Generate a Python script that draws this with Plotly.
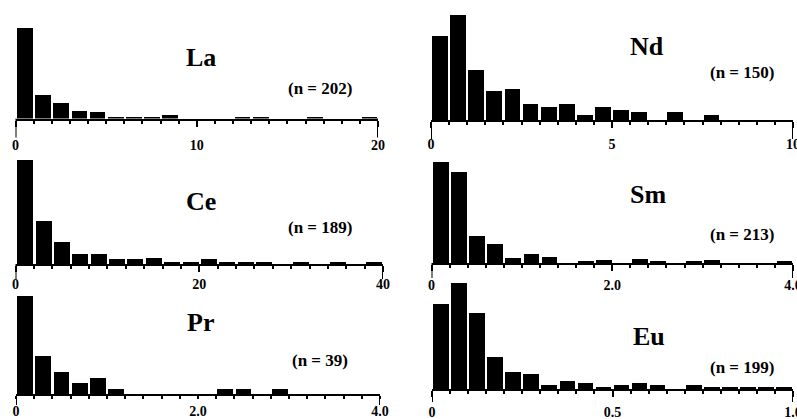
import numpy as np
import plotly.graph_objects as go

W, H = 797, 419

# ---------------- data ----------------
elements = ["La", "Nd", "Ce", "Sm", "Pr", "Eu"]
n_labels = ["(n = 202)", "(n = 150)", "(n = 189)", "(n = 213)", "(n = 39)", "(n = 199)"]

la_counts = [119, 31, 21, 10, 8, 2, 1, 2, 4, 0, 0, 0, 1, 1, 0, 0, 1, 0, 0, 1]
nd_counts = [32, 40, 19, 11, 12, 6, 5, 6, 2, 5, 4, 3, 0, 3, 0, 2, 0, 0, 0, 0]
ce_counts = [87, 36, 18, 8, 8, 4, 4, 5, 2, 2, 4, 2, 2, 2, 0, 1, 0, 2, 0, 2]
sm_counts = [79, 71, 21, 15, 4, 7, 5, 0, 1, 2, 0, 3, 1, 0, 1, 2, 0, 0, 0, 1]
pr_counts = [18, 7, 4, 2, 3, 1, 0, 0, 0, 0, 0, 1, 1, 0, 1, 0, 0, 0, 0, 0]
eu_counts = [45, 56, 40, 17, 9, 8, 2, 4, 3, 1, 2, 3, 2, 0, 2, 1, 1, 1, 1, 1]

x_max = [20, 10, 40, 4.0, 4.0, 1.0]
tick_vals = [[0, 10, 20], [0, 5, 10], [0, 20, 40], [0, 2.0, 4.0], [0, 2.0, 4.0], [0, 0.5, 1.0]]
tick_text = [["0", "10", "20"], ["0", "5", "10"], ["0", "20", "40"],
             ["0", "2.0", "4.0"], ["0", "2.0", "4.0"], ["0", "0.5", "1.0"]]
counts = [la_counts, nd_counts, ce_counts, sm_counts, pr_counts, eu_counts]

# ---------------- layout (pixel geometry) ----------------
# left px, right px, baseline px, top-of-tallest-bar px, end tick length
geom = [
    (15.5, 378, 118.5, 28, 19),
    (431, 793, 120, 15, 19),
    (15.5, 383, 264, 160, 15),
    (431.5, 793, 263, 162, 15),
    (16, 380, 394, 296, 11),
    (432, 793, 389, 283, 13),
]
standoff = [7, 4, 0, 2, 0, 3]
mid_ticklen = [6, 6, 6, 6, 3, 6]
elem_pos = [(201, 58), (647, 46), (201, 201), (648, 194), (201, 322), (649, 336)]
n_pos = [(320, 88), (742, 73), (320, 227), (742, 234), (320, 360), (742, 367)]

SERIF = "Liberation Serif"

def fx(x):
    return x / W

def fy(y):
    return 1 - y / H

fig = go.Figure()
shapes = []
annotations = []

for i in range(6):
    c = counts[i]
    nb = len(c)
    bw = x_max[i] / nb
    edges = np.linspace(0, x_max[i], nb + 1)
    centers = (edges[:-1] + edges[1:]) / 2
    ax = "" if i == 0 else str(i + 1)
    left, right, base, top, endlen = geom[i]
    fig.add_trace(go.Bar(
        x=centers, y=c, width=bw * 0.87,
        marker=dict(color="black", line=dict(width=0)),
        xaxis="x" + ax, yaxis="y" + ax, showlegend=False, hoverinfo="skip",
    ))
    fig.update_layout(**{
        "xaxis" + ax: dict(
            domain=[fx(left), fx(right)], range=[0, x_max[i]], anchor="y" + ax,
            showline=True, linewidth=2, linecolor="black", mirror=False,
            showgrid=False, zeroline=False, automargin=False,
            ticks="outside", ticklen=mid_ticklen[i], tickwidth=2, tickcolor="black",
            tickvals=tick_vals[i], ticktext=tick_text[i],
            ticklabelstandoff=standoff[i], ticklabeloverflow="allow",
            tickfont=dict(family=SERIF, size=14, color="black", weight="bold"),
            minor=dict(ticks="outside", dtick=bw, tick0=0, ticklen=3,
                       tickwidth=1.5, tickcolor="black", showgrid=False),
            fixedrange=True,
        ),
        "yaxis" + ax: dict(
            domain=[fy(base), fy(top)], range=[0, max(c)], anchor="x" + ax,
            visible=False, fixedrange=True, automargin=False,
        ),
    })
    for xv in (0, x_max[i]):
        shapes.append(dict(
            type="line", xref="x" + ax, yref="paper",
            x0=xv, x1=xv, y0=fy(base), y1=fy(base + endlen),
            line=dict(color="black", width=2),
        ))
    ex, ey = elem_pos[i]
    annotations.append(dict(
        text=elements[i], x=fx(ex), y=fy(ey), xref="paper", yref="paper",
        xanchor="center", yanchor="middle", showarrow=False,
        font=dict(family=SERIF, size=26, color="black", weight="bold"),
    ))
    nx, ny = n_pos[i]
    annotations.append(dict(
        text=n_labels[i], x=fx(nx), y=fy(ny), xref="paper", yref="paper",
        xanchor="center", yanchor="middle", showarrow=False,
        font=dict(family=SERIF, size=17, color="black", weight="bold"),
    ))

fig.update_layout(
    width=W, height=H, autosize=False,
    margin=dict(l=0, r=0, t=0, b=0, pad=0),
    paper_bgcolor="white", plot_bgcolor="white",
    bargap=0, shapes=shapes, annotations=annotations,
)

fig.write_html(
    "out.html",
    config={"responsive": False, "displayModeBar": False},
    post_script="document.body.style.margin='0';document.body.style.padding='0';",
)
